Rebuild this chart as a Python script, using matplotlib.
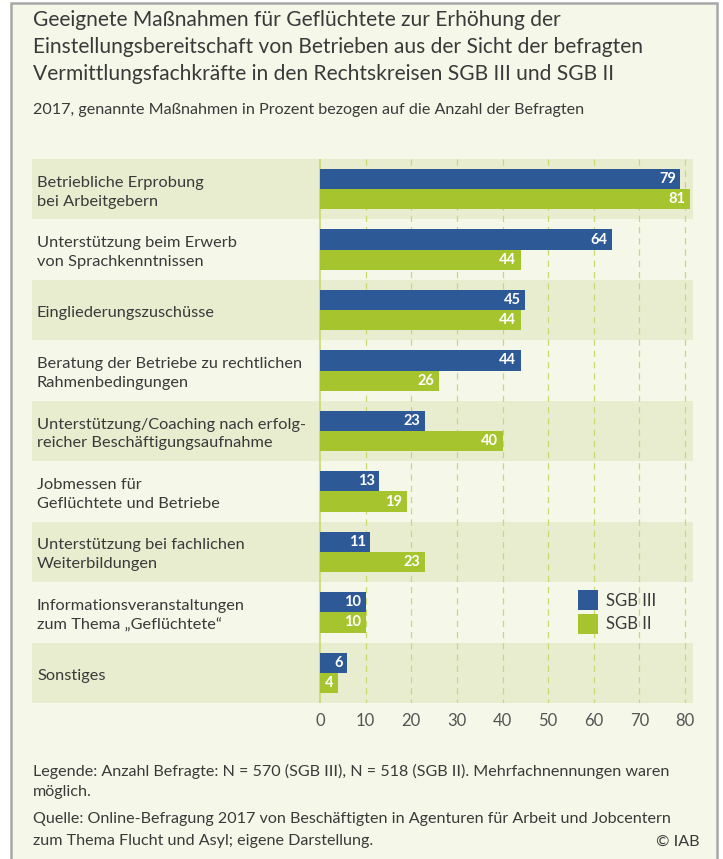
import matplotlib
matplotlib.use("Agg")
import matplotlib.pyplot as plt
from matplotlib.patches import Rectangle
import matplotlib.transforms as mtransforms

categories = [
    "Betriebliche Erprobung\nbei Arbeitgebern",
    "Unterstützung beim Erwerb\nvon Sprachkenntnissen",
    "Eingliederungszuschüsse",
    "Beratung der Betriebe zu rechtlichen\nRahmenbedingungen",
    "Unterstützung/Coaching nach erfolg-\nreicher Beschäftigungsaufnahme",
    "Jobmessen für\nGeflüchtete und Betriebe",
    "Unterstützung bei fachlichen\nWeiterbildungen",
    "Informationsveranstaltungen\nzum Thema „Geflüchtete“",
    "Sonstiges",
]
sgb3 = [79, 64, 45, 44, 23, 13, 11, 10, 6]
sgb2 = [81, 44, 44, 26, 40, 19, 23, 10, 4]
series_names = ["SGB III", "SGB II"]
xticks = [0, 10, 20, 30, 40, 50, 60, 70, 80]

title = ("Geeignete Maßnahmen für Geflüchtete zur Erhöhung der\n"
         "Einstellungsbereitschaft von Betrieben aus der Sicht der befragten\n"
         "Vermittlungsfachkräfte in den Rechtskreisen SGB III und SGB II")
subtitle = "2017, genannte Maßnahmen in Prozent bezogen auf die Anzahl der Befragten"
note1 = ("Legende: Anzahl Befragte: N = 570 (SGB III), N = 518 (SGB II). Mehrfachnennungen waren\n"
         "möglich.")
note2_l1 = "Quelle: Online-Befragung 2017 von Beschäftigten in Agenturen für Arbeit und Jobcentern"
note2_l2 = "zum Thema Flucht und Asyl; eigene Darstellung."
copyright_txt = "© IAB"

BLUE = "#2D5A97"
GREEN = "#A6C42E"
BG = "#F5F7E8"
BAND = "#E8EDCF"
GRID = "#C9D870"
TEXT = "#3a3a3a"

plt.rcParams["font.family"] = ["Lato", "DejaVu Sans"]

W, H = 723, 859
fig = plt.figure(figsize=(W / 100, H / 100), dpi=100)
fig.patch.set_facecolor("white")

# frame
fig.patches.append(Rectangle((11 / W, -0.01), (717 - 11) / W, (H - 3) / H + 0.01,
                             transform=fig.transFigure, facecolor=BG,
                             edgecolor="#A8A8A8", linewidth=1.8, zorder=-5))

# axes: x pixels 32..693, y pixels 159..703
ax_l, ax_r, ax_t, ax_b = 32, 693, 159, 703
ax = fig.add_axes([ax_l / W, (H - ax_b) / H, (ax_r - ax_l) / W, (ax_b - ax_t) / H])
ax.set_facecolor("none")
ppu = (685 - 320) / 80.0
xmin = -(320 - ax_l) / ppu
xmax = 80 + (ax_r - 685) / ppu
n = len(categories)
ax.set_xlim(xmin, xmax)
ax.set_ylim(n - 0.5, -0.5)

for i in range(n):
    if i % 2 == 0:
        ax.axhspan(i - 0.5, i + 0.5, color=BAND, zorder=0, lw=0)

# grid
ax.vlines([t for t in xticks if t > 0], -0.5, n - 0.5, colors=GRID,
          linestyles=(0, (5, 4)), linewidth=0.9, zorder=1)
ax.vlines([0], -0.5, n - 0.5, colors=GRID, linewidth=1.2, zorder=1)

bh = 0.335
ys = list(range(n))
ax.barh([y - bh / 2 for y in ys], sgb3, height=bh, color=BLUE, zorder=2, label=series_names[0])
ax.barh([y + bh / 2 for y in ys], sgb2, height=bh, color=GREEN, zorder=2, label=series_names[1])

for y, v in zip(ys, sgb3):
    ax.text(v - 1.0, y - bh / 2, str(v), color="white", ha="right", va="center",
            fontsize=10.5, fontweight="bold", zorder=3)
for y, v in zip(ys, sgb2):
    ax.text(v - 1.0, y + bh / 2, str(v), color="white", ha="right", va="center",
            fontsize=10.5, fontweight="bold", zorder=3)

# category labels
trans = mtransforms.blended_transform_factory(fig.transFigure, ax.transData)
for y, c in zip(ys, categories):
    ax.text(37 / W, y + 0.05, c, transform=trans, ha="left", va="center", fontsize=11.8,
            color=TEXT, linespacing=1.45)

for s in ax.spines.values():
    s.set_visible(False)
ax.set_yticks([])
ax.set_xticks(xticks)
ax.set_xticklabels([str(t) for t in xticks], fontsize=12, color="#555555")
ax.tick_params(axis="x", length=0, pad=7)

# legend
leg = ax.legend(loc="upper left",
                bbox_to_anchor=((578 - ax_l) / (ax_r - ax_l), 1 - (590 - ax_t) / (ax_b - ax_t)),
                frameon=False, fontsize=12, handlelength=1.2, handleheight=1.47,
                labelspacing=0.22, handletextpad=0.45, labelcolor=TEXT,
                borderpad=0, borderaxespad=0)

# titles
fig.text(33 / W, 1 - 10 / H, title, ha="left", va="top", fontsize=15.1,
         color=TEXT, linespacing=1.45)
fig.text(33 / W, 1 - 103 / H, subtitle, ha="left", va="top", fontsize=11.6, color=TEXT)

fig.text(33 / W, 1 - 764 / H, note1, ha="left", va="top", fontsize=11.6, color=TEXT, linespacing=1.5)
fig.text(33 / W, 1 - 812 / H, note2_l1, ha="left", va="top", fontsize=11.6, color=TEXT)
fig.text(33 / W, 1 - 834 / H, note2_l2, ha="left", va="top", fontsize=11.6, color=TEXT)
fig.text(700 / W, 1 - 835 / H, copyright_txt, ha="right", va="top", fontsize=11.6, color=TEXT)

fig.savefig("out.png", dpi=100, facecolor=fig.get_facecolor())
